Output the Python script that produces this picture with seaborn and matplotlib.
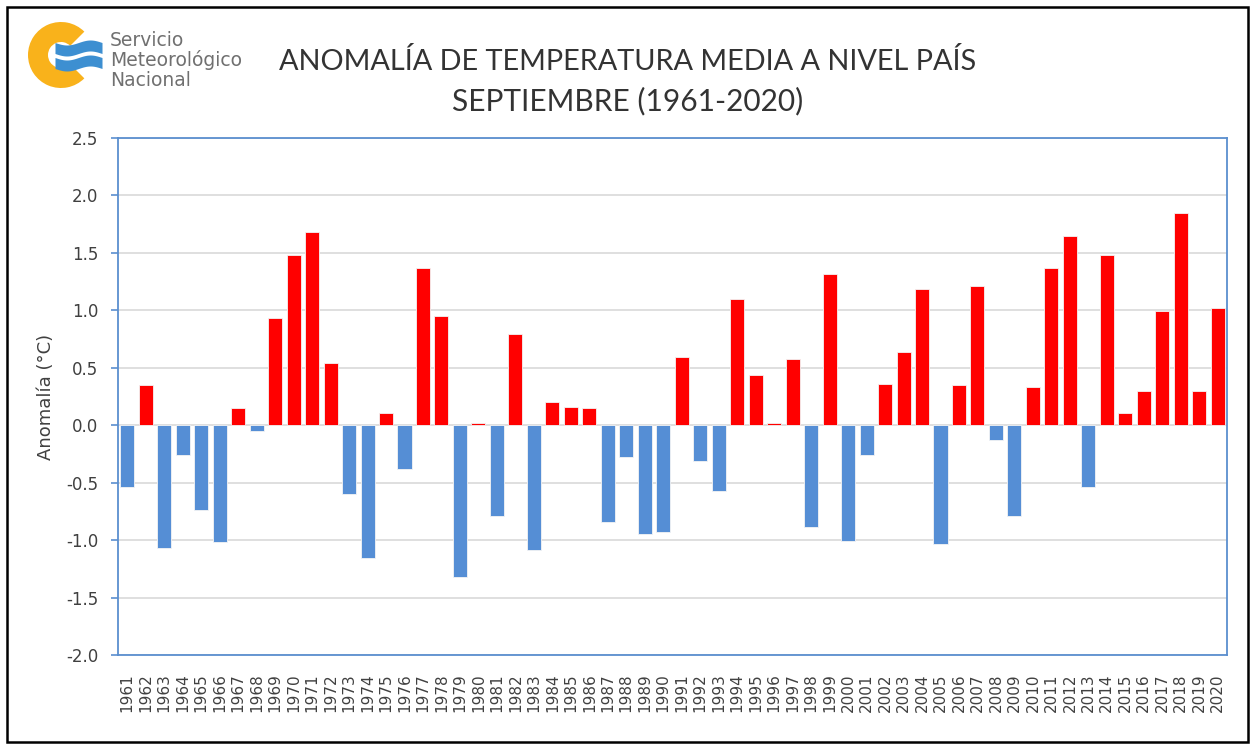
import numpy as np
import pandas as pd
import seaborn as sns
import matplotlib.pyplot as plt
from matplotlib.patches import Wedge, Rectangle

# Anomalia de temperatura media, septiembre (1961-2020)
years = list(range(1961, 2021))
anomalies = [
    -0.54, 0.35, -1.07, -0.26, -0.74, -1.02, 0.15, -0.05, 0.93, 1.48,
    1.68, 0.54, -0.60, -1.16, 0.11, -0.38, 1.37, 0.95, -1.32, 0.02,
    -0.79, 0.79, -1.09, 0.20, 0.16, 0.15, -0.84, -0.28, -0.95, -0.93,
    0.59, -0.31, -0.57, 1.10, 0.44, 0.02, 0.58, -0.89, 1.32, -1.01,
    -0.26, 0.36, 0.64, 1.19, -1.03, 0.35, 1.21, -0.13, -0.79, 0.33,
    1.37, 1.65, -0.54, 1.48, 0.11, 0.30, 0.99, 1.85, 0.30, 1.02,
]
yticks = [2.5, 2.0, 1.5, 1.0, 0.5, 0.0, -0.5, -1.0, -1.5, -2.0]

df = pd.DataFrame({"year": [str(y) for y in years], "anom": anomalies})
df["signo"] = np.where(df["anom"] >= 0, "pos", "neg")

W, H = 1255, 749
sns.set_style("white")
plt.rcParams["font.family"] = ["DejaVu Sans"]

fig = plt.figure(figsize=(W / 100, H / 100), dpi=100)
ax = fig.add_axes([118 / W, 1 - 655 / H, (1227 - 118) / W, (655 - 138) / H])

sns.barplot(data=df, x="year", y="anom", hue="signo",
            palette={"pos": "#FF0000", "neg": "#558ED5"}, saturation=1,
            dodge=False, width=0.76, legend=False, ax=ax,
            edgecolor="#F4F4F4", linewidth=0.6, zorder=3)

ax.set_ylim(-2.0, 2.5)
ax.set_xlim(-0.5, len(years) - 0.5)
ax.set_yticks(yticks)
ax.set_yticklabels([f"{v:.1f}" for v in yticks], fontsize=12, color="#404040")
ax.tick_params(axis="x", labelrotation=90, labelsize=11, colors="#404040",
               length=0, pad=13)
ax.tick_params(axis="y", length=5, width=1.2, color="#5B8FCF", direction="out",
               left=True, pad=9)
ax.yaxis.grid(True, color="#D9D9D9", linewidth=1.2, zorder=0)
ax.set_axisbelow(True)
for s in ax.spines.values():
    s.set_visible(True)
    s.set_color("#5B8FCF")
    s.set_linewidth(1.3)
ax.set_xlabel("")
ax.set_ylabel("Anomalía (°C)", fontsize=13, color="#404040", labelpad=8)

# Titulo
title_font = ["Lato", "DejaVu Sans"]
fig.text(628 / W, 1 - 62 / H, "ANOMALÍA DE TEMPERATURA MEDIA A NIVEL PAÍS",
         ha="center", va="center", fontsize=20.8, color="#333333", family=title_font)
fig.text(628 / W, 1 - 101 / H, "SEPTIEMBRE (1961-2020)",
         ha="center", va="center", fontsize=21.5, color="#333333", family=title_font)

# Logo
lax = fig.add_axes([20 / W, 1 - 95 / H, 90 / W, 80 / H])
lax.set_xlim(20, 110)
lax.set_ylim(95, 15)
lax.set_aspect("equal")
lax.axis("off")
lax.add_patch(Wedge((61, 55), 33, 45, 315, width=20, facecolor="#F9B21B", edgecolor="none"))
t = np.linspace(55, 102, 80)
for yc in (48, 63):
    yy = yc + 2.5 * np.sin((t - 55) / 47 * 2 * np.pi)
    lax.fill_between(t, yy - 5.5, yy + 5.5, color="#3D8FD1", linewidth=0)
for i, line in enumerate(["Servicio", "Meteorológico", "Nacional"]):
    fig.text(110 / W, 1 - (40 + i * 20) / H, line, ha="left", va="center",
             fontsize=13.5, color="#707070")

# Borde exterior
fig.patches.append(Rectangle((7 / W, 7 / H), (W - 14) / W, (H - 14) / H,
                             transform=fig.transFigure, fill=False,
                             edgecolor="black", linewidth=1.8))

fig.savefig("out.png", dpi=100)
